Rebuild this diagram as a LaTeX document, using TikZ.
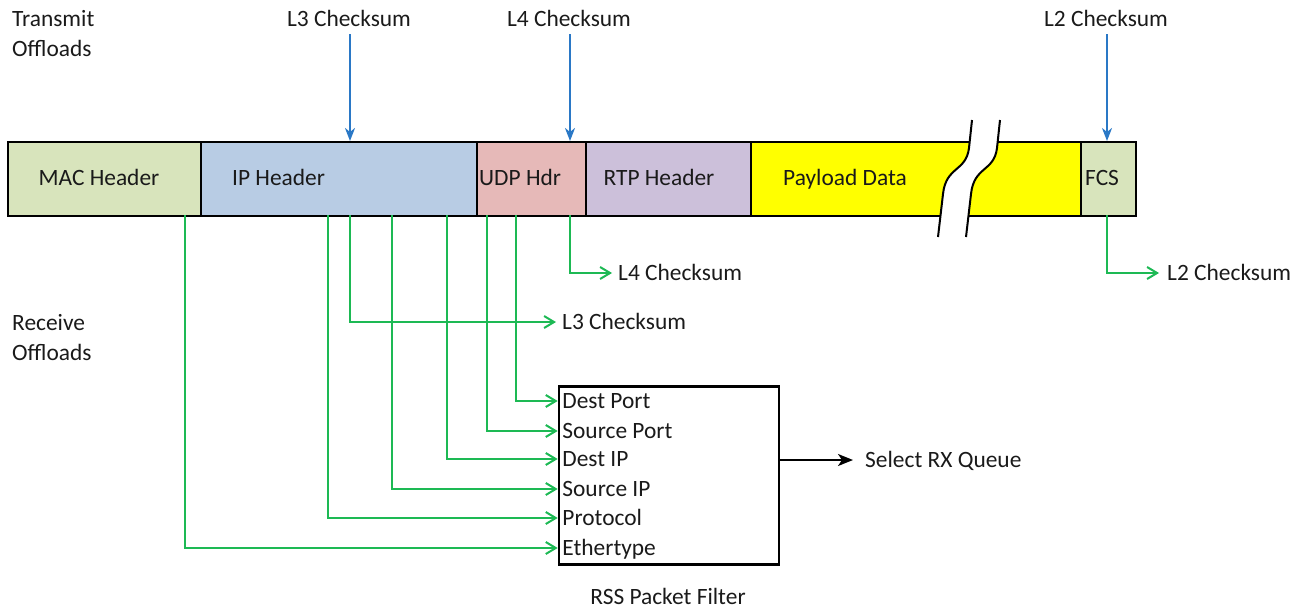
\documentclass[tikz,border=0pt]{standalone}
\usepackage{fontspec}
\setmainfont{Carlito}
\usetikzlibrary{arrows.meta,calc}

\definecolor{macgreen}{HTML}{D8E4BC}
\definecolor{ipblue}{HTML}{B8CCE4}
\definecolor{udppink}{HTML}{E6B9B8}
\definecolor{rtppurple}{HTML}{CCC0DA}
\definecolor{payyellow}{HTML}{FFFF00}
\definecolor{rxgreen}{HTML}{1DB954}
\definecolor{txblue}{HTML}{2A78C6}
\definecolor{ink}{HTML}{1A1A1A}

\tikzset{
  seg/.style={draw=black, line width=2pt, minimum height=74pt, anchor=north west, inner sep=0pt},
  % text boxes span exactly the cap height, so west/center sit on the middle of the capitals
  capbox/.style={text=ink, text height=14.6pt, text depth=0pt, inner ysep=0pt},
  lbl/.style={capbox, inner xsep=0pt, anchor=west},
  clbl/.style={capbox, inner xsep=0pt, anchor=center},
  row/.style={capbox, inner xsep=4.5pt, anchor=west},
  rxline/.style={draw=rxgreen, line width=2pt, -{Straight Barb[length=10pt,width=12pt,line width=2pt]}},
  txarrow/.style={draw=txblue, line width=2pt, -{Stealth[length=13pt,width=10pt,inset=4pt]}},
  outarrow/.style={draw=black, line width=2pt, -{Stealth[length=15pt,width=12pt,inset=4pt]}},
  brk/.style={draw=black, line width=2pt},
}

\begin{document}
\begin{tikzpicture}[x=1pt,y=-1pt,font=\fontsize{23.4}{28}\selectfont]
\useasboundingbox (0,0) rectangle (1295,608);

% packet fields
\node[seg, fill=macgreen,  minimum width=193pt] (mac) at (7,141) {};
\node[seg, fill=ipblue,    minimum width=276pt] (ip)  at (200,141) {};
\node[seg, fill=udppink,   minimum width=109pt] (udp) at (476,141) {};
\node[seg, fill=rtppurple, minimum width=165pt] (rtp) at (585,141) {};
\node[seg, fill=payyellow, minimum width=330pt] (pay) at (750,141) {};
\node[seg, fill=macgreen,  minimum width=55pt]  (fcs) at (1080,141) {};

% break in the payload
\begin{scope}
  \clip (920,137) rectangle (1030,219);
  \fill[white] (972,120) -- (969,148) .. controls (966,172) and (946,166) .. (943,194) -- (938,237)
     -- (966,237) -- (971,194) .. controls (974,166) and (994,172) .. (997,148) -- (1000,120) -- cycle;
\end{scope}
\draw[brk] (972,120) -- (969,148) .. controls (966,172) and (946,166) .. (943,194) -- (938,237);
\draw[brk] (1000,120) -- (997,148) .. controls (994,172) and (974,166) .. (971,194) -- (966,237);

% field names
\node[clbl] at (99,178) {MAC Header};
\node[lbl]  at (232,178) {IP Header};
\node[lbl]  at (479,178) {UDP Hdr};
\node[clbl] at (659,178) {RTP Header};
\node[lbl]  at (783,178) {Payload Data};
\node[lbl]  at (1085,178) {FCS};

% transmit side
\node[lbl] (tx1) at (12,19) {Transmit};
\node[lbl] (tx2) at (12,49) {Offloads};
\node[clbl] (txl3) at (349,19) {L3 Checksum};
\node[clbl] (txl4) at (569,19) {L4 Checksum};
\node[clbl] (txl2) at (1106,19) {L2 Checksum};
\coordinate (a3) at (350,34);
\coordinate (a4) at (570,34);
\coordinate (a2) at (1107,34);
\draw[txarrow] (a3) -- (a3 |- ip.north);
\draw[txarrow] (a4) -- (a4 |- udp.north);
\draw[txarrow] (a2) -- (a2 |- fcs.north);

% receive side
\node[lbl] (rx1) at (12,323) {Receive};
\node[lbl] (rx2) at (12,353) {Offloads};

% taps on the bottom edge of the fields
\coordinate (tmac)  at (185,215);
\coordinate (tprot) at (328,215);
\coordinate (tl3)   at (350,215);
\coordinate (tsip)  at (392,215);
\coordinate (tdip)  at (447,215);
\coordinate (tsp)   at (487,215);
\coordinate (tdp)   at (516,215);
\coordinate (tl4)   at (570,215);
\coordinate (tl2)   at (1107,215);

\node[lbl] (rxl4) at (618,273) {L4 Checksum};
\node[lbl] (rxl3) at (562,322) {L3 Checksum};
\node[lbl] (rxl2) at (1167,273) {L2 Checksum};
\draw[rxline, shorten >=6pt] (tl4) |- (rxl4.west);
\draw[rxline, shorten >=6pt] (tl3) |- (rxl3.west);
\draw[rxline, shorten >=8pt] (tl2) |- (rxl2.west);

% RSS packet filter
\node[draw=black, line width=2.5pt, minimum width=220pt, minimum height=178pt, anchor=north west, inner sep=0pt] (rss) at (557.7,385) {};
\node[row] (r1) at (557.7,401) {Dest Port};
\node[row] (r2) at (557.7,431) {Source Port};
\node[row] (r3) at (557.7,459) {Dest IP};
\node[row] (r4) at (557.7,489) {Source IP};
\node[row] (r5) at (557.7,518) {Protocol};
\node[row] (r6) at (557.7,548) {Ethertype};
\node[clbl] (rsslbl) at (668,597) {RSS Packet Filter};

\draw[rxline] (tdp)   |- (r1.west);
\draw[rxline] (tsp)   |- (r2.west);
\draw[rxline] (tdip)  |- (r3.west);
\draw[rxline] (tsip)  |- (r4.west);
\draw[rxline] (tprot) |- (r5.west);
\draw[rxline] (tmac)  |- (r6.west);

\node[lbl] (sel) at (865,460) {Select RX Queue};
\draw[outarrow, shorten >=12pt] (rss.east |- sel.west) -- (sel.west);
\end{tikzpicture}
\end{document}
